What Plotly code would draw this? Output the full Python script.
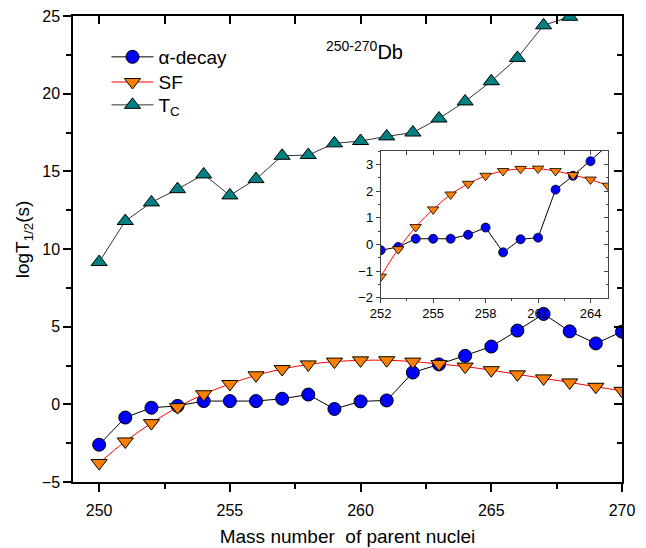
import plotly.graph_objects as go

mass = list(range(250, 271))
alpha_decay = [-2.6, -0.85, -0.22, -0.1, 0.21, 0.21, 0.21, 0.36, 0.63, -0.3, 0.19,
               0.25, 2.05, 2.57, 3.12, 3.72, 4.75, 5.82, 4.7, 3.92, 4.68]
sf = [-3.78, -2.39, -1.21, -0.18, 0.65, 1.31, 1.87, 2.27, 2.57, 2.75, 2.83,
      2.84, 2.75, 2.6, 2.43, 2.2, 1.93, 1.67, 1.41, 1.13, 0.87]
tc_mass = list(range(250, 269))
tc = [9.16, 11.8, 13.0, 13.85, 14.8, 13.45, 14.5, 16.0, 16.05, 16.8, 16.95,
      17.25, 17.5, 18.4, 19.5, 20.8, 22.3, 24.4, 24.95]

inset_mass = list(range(252, 266))
inset_alpha = alpha_decay[2:16]
inset_sf = sf[2:16]

FONT = "Liberation Sans, Arial, sans-serif"
ORANGE = "#FF8000"
BLUE = "#0000FF"
TEAL = "#008080"

fig = go.Figure()

# main traces
fig.add_trace(go.Scatter(x=mass, y=alpha_decay, mode="lines+markers", name="\u03b1-decay",
                         legend="legend",
                         line=dict(color="black", width=1),
                         marker=dict(symbol="circle", size=13, color=BLUE,
                                     line=dict(color="black", width=1))))
fig.add_trace(go.Scatter(x=mass, y=sf, mode="lines+markers", name="SF",
                         legend="legend2",
                         line=dict(color="red", width=1, shape="spline"),
                         marker=dict(symbol="triangle-down", size=14, color=ORANGE,
                                     line=dict(color="black", width=1))))
fig.add_trace(go.Scatter(x=tc_mass, y=tc, mode="lines+markers", name="T<sub>C</sub>",
                         legend="legend3",
                         line=dict(color="#333333", width=1),
                         marker=dict(symbol="triangle-up", size=14, color=TEAL,
                                     line=dict(color="black", width=1))))

# mirror axes dummy trace
fig.add_trace(go.Scatter(x=[None], y=[None], xaxis="x2", yaxis="y2",
                         showlegend=False, hoverinfo="skip"))

# inset traces
fig.add_trace(go.Scatter(x=inset_mass, y=inset_alpha, mode="lines+markers", xaxis="x3", yaxis="y3",
                         showlegend=False, line=dict(color="black", width=1),
                         marker=dict(symbol="circle", size=9, color=BLUE,
                                     line=dict(color="black", width=0.8))))
fig.add_trace(go.Scatter(x=inset_mass, y=inset_sf, mode="lines+markers", xaxis="x3", yaxis="y3",
                         showlegend=False, line=dict(color="red", width=1, shape="spline"),
                         marker=dict(symbol="triangle-down", size=10, color=ORANGE,
                                     line=dict(color="black", width=0.8))))
fig.add_trace(go.Scatter(x=[None], y=[None], xaxis="x4", yaxis="y4",
                         showlegend=False, hoverinfo="skip"))

tickfont = dict(family=FONT, size=16, color="black")
insetfont = dict(family=FONT, size=13, color="black")
legfont = dict(family=FONT, size=19, color="black")


def leg(y):
    return dict(x=0.061, y=y, xanchor="left", yanchor="middle", font=legfont,
                bgcolor="rgba(0,0,0,0)", itemwidth=42)


fig.update_layout(
    width=638, height=540,
    margin=dict(l=65, r=24, t=8, b=66, autoexpand=False),
    paper_bgcolor="white", plot_bgcolor="white",
    font=dict(family=FONT, color="black"),
    showlegend=True,
    legend=leg(0.912),
    legend2=leg(0.858),
    legend3=leg(0.809),
    xaxis=dict(domain=[0, 1], range=[249, 270], tick0=250, dtick=5, automargin=False,
               ticks="outside", ticklen=8, tickwidth=1.5, tickcolor="black",
               minor=dict(dtick=2.5, tick0=250, ticks="outside", ticklen=5, tickwidth=1.5, tickcolor="black"),
               showline=True, linewidth=1.5, linecolor="black",
               showgrid=False, zeroline=False, tickfont=tickfont, ticklabelstandoff=5,
               title=dict(text="Mass number\u00a0 of parent nuclei",
                          font=dict(family=FONT, size=19, color="black"), standoff=12)),
    yaxis=dict(domain=[0, 1], range=[-5, 25], tick0=0, dtick=5, automargin=False,
               ticks="outside", ticklen=8, tickwidth=1.5, tickcolor="black",
               minor=dict(dtick=2.5, tick0=0, ticks="outside", ticklen=5, tickwidth=1.5, tickcolor="black"),
               showline=True, linewidth=1.5, linecolor="black", ticklabeloverflow="allow",
               showgrid=False, zeroline=False, tickfont=tickfont),
    xaxis2=dict(overlaying="x", side="top", anchor="y2", range=[249, 270], tick0=250, dtick=5,
                automargin=False,
                ticks="inside", ticklen=8, tickwidth=1.5, tickcolor="black",
                minor=dict(dtick=2.5, tick0=250, ticks="inside", ticklen=8, tickwidth=1.5, tickcolor="black"),
                showline=True, linewidth=1.5, linecolor="black",
                showticklabels=False, showgrid=False, zeroline=False),
    yaxis2=dict(overlaying="y", side="right", anchor="x2", range=[-5, 25], tick0=0, dtick=5,
                automargin=False,
                ticks="inside", ticklen=8, tickwidth=1.5, tickcolor="black",
                minor=dict(dtick=2.5, tick0=0, ticks="inside", ticklen=5, tickwidth=1.5, tickcolor="black"),
                showline=True, linewidth=1.5, linecolor="black",
                showticklabels=False, showgrid=False, zeroline=False),
    xaxis3=dict(domain=[0.5605, 0.9745], anchor="y3", range=[252, 265], tick0=252, dtick=3,
                automargin=False,
                ticks="outside", ticklen=4, tickwidth=1, tickcolor="#444",
                minor=dict(dtick=1.5, tick0=252, ticks="outside", ticklen=2, tickwidth=1, tickcolor="#444"),
                showline=True, linewidth=1, linecolor="#444",
                showgrid=False, zeroline=False, tickfont=insetfont, ticklabelstandoff=0),
    yaxis3=dict(domain=[0.3955, 0.7103], anchor="x3", range=[-2, 3.5], tick0=-2, dtick=1,
                automargin=False,
                ticks="outside", ticklen=4, tickwidth=1, tickcolor="#444",
                minor=dict(dtick=0.5, tick0=-2, ticks="outside", ticklen=2, tickwidth=1, tickcolor="#444"),
                showline=True, linewidth=1, linecolor="#444",
                showgrid=False, zeroline=False, tickfont=insetfont, ticklabelstandoff=0),
    xaxis4=dict(overlaying="x3", side="top", anchor="y4", range=[252, 265], tick0=252, dtick=3,
                automargin=False,
                ticks="inside", ticklen=4, tickwidth=1, tickcolor="#444",
                minor=dict(dtick=1.5, tick0=252, ticks="inside", ticklen=4, tickwidth=1, tickcolor="#444"),
                showline=True, linewidth=1, linecolor="#444",
                showticklabels=False, showgrid=False, zeroline=False),
    yaxis4=dict(overlaying="y3", side="right", anchor="x4", range=[-2, 3.5], tick0=-2, dtick=1,
                automargin=False,
                ticks="inside", ticklen=4, tickwidth=1, tickcolor="#444",
                minor=dict(dtick=0.5, tick0=-2, ticks="inside", ticklen=2, tickwidth=1, tickcolor="#444"),
                showline=True, linewidth=1, linecolor="#444",
                showticklabels=False, showgrid=False, zeroline=False),
    annotations=[
        dict(text="<sup>250-270</sup>Db", x=0.458, y=0.926, xref="paper", yref="paper",
             xanchor="left", yanchor="middle", showarrow=False,
             font=dict(family=FONT, size=20, color="black")),
        dict(text="logT<sub>1/2</sub>(s)", x=-0.09, y=0.52, xref="paper", yref="paper",
             xanchor="center", yanchor="middle", showarrow=False, textangle=-90,
             font=dict(family=FONT, size=19, color="black")),
    ],
)

fig.write_html("out.html")
